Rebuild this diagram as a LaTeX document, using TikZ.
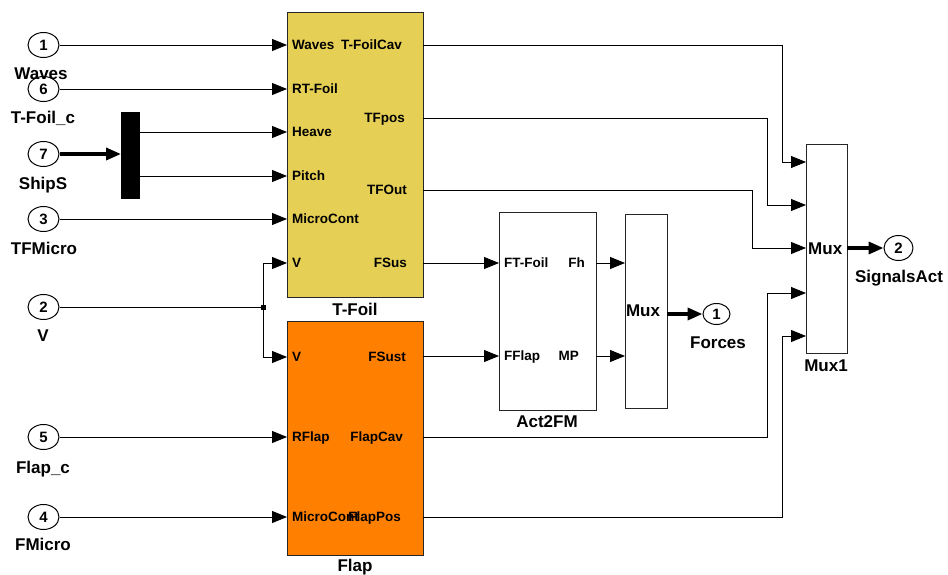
\documentclass[tikz,border=0pt]{standalone}
\usepackage{fontspec}
\setmainfont{Liberation Sans}
\usetikzlibrary{shapes.geometric,arrows.meta}
\definecolor{tfoilcol}{RGB}{230,207,85}
\definecolor{flapcol}{RGB}{255,128,0}
\begin{document}
\begin{tikzpicture}[x=1pt,y=-1pt,
  inport/.style={ellipse,draw,line width=1pt,minimum width=31pt,minimum height=25pt,inner sep=0pt,font=\fontsize{15}{15}\selectfont\bfseries},
  blk/.style={draw=black!85,line width=1.3pt,inner sep=0pt,anchor=north west},
  pl/.style={font=\fontsize{13.5}{14}\selectfont\bfseries,inner sep=0pt,text height=9.7pt,text depth=0pt},
  bl/.style={font=\fontsize{17}{17}\selectfont\bfseries,inner sep=0pt,text height=12.2pt,text depth=0pt},
  sig/.style={line width=0.9pt,-{Triangle[length=15pt,width=12pt]}},
  wire/.style={line width=0.9pt},
  bus/.style={line width=3.5pt,-{Triangle[length=15pt,width=12pt]}},
]
\useasboundingbox (0,0) rectangle (948,575);
\fill[white] (0,0) rectangle (948,575);

% blocks
\node[blk,fill=tfoilcol,minimum width=136pt,minimum height=285pt] (tfoil) at (287,12) {};
\node[blk,fill=flapcol,minimum width=136pt,minimum height=234pt] (flap) at (287,321) {};
\node[blk,fill=white,minimum width=97pt,minimum height=198pt] (act) at (499,212) {};
\node[blk,fill=white,minimum width=42pt,minimum height=194pt] (mux) at (625,214) {};
\node[blk,fill=white,minimum width=41pt,minimum height=209pt] (mux1) at (806,144) {};
\node[fill=black,inner sep=0pt,minimum width=19pt,minimum height=87pt,anchor=north west] (dmx) at (121,112) {};

% block labels
\node[bl] (tfoillbl) at (355,309) {T-Foil};
\node[bl] (flaplbl) at (355,565) {Flap};
\node[bl] (actlbl) at (547,421) {Act2FM};
\node[bl] (mux1lbl) at (826,365) {Mux1};
\node[bl] (muxtxt) at (643,310) {Mux};
\node[bl,anchor=west] (mux1txt) at (808,248) {Mux};

% port labels T-Foil
\node[pl,anchor=west] (p1) at (292,45) {Waves};
\node[pl,anchor=west] (p2) at (292,89) {RT-Foil};
\node[pl,anchor=west] (p3) at (292,132) {Heave};
\node[pl,anchor=west] (p4) at (292,176) {Pitch};
\node[pl,anchor=west] (p5) at (292,219) {MicroCont};
\node[pl,anchor=west] (p6) at (292,263) {V};
\node[pl,anchor=east] (q1) at (402,45) {T-FoilCav};
\node[pl,anchor=east] (q2) at (405,118) {TFpos};
\node[pl,anchor=east] (q3) at (407,190) {TFOut};
\node[pl,anchor=east] (q4) at (407,263) {FSus};
% port labels Flap
\node[pl,anchor=west] (p7) at (292,357) {V};
\node[pl,anchor=west] (p8) at (292,437) {RFlap};
\node[pl,anchor=west] (p9) at (292,517) {MicroCont};
\node[pl,anchor=east] (q5) at (406,357) {FSust};
\node[pl,anchor=east] (q6) at (403,437) {FlapCav};
\node[pl,anchor=east] (q7) at (401,517) {FlapPos};
% port labels Act2FM
\node[pl,anchor=west] (p10) at (504,263) {FT-Foil};
\node[pl,anchor=west] (p11) at (504,356) {FFlap};
\node[pl,anchor=east] (q8) at (585,263) {Fh};
\node[pl,anchor=east] (q9) at (579,356) {MP};

% port coordinates
\coordinate (tfi1) at (287,45);
\coordinate (tfi2) at (287,89);
\coordinate (tfi3) at (287,132);
\coordinate (tfi4) at (287,176);
\coordinate (tfi5) at (287,219);
\coordinate (tfi6) at (287,263);
\coordinate (tfo1) at (423,45);
\coordinate (tfo2) at (423,118);
\coordinate (tfo3) at (423,190);
\coordinate (tfo4) at (423,263);
\coordinate (fli1) at (287,357);
\coordinate (fli2) at (287,437);
\coordinate (fli3) at (287,517);
\coordinate (flo1) at (423,356);
\coordinate (flo2) at (423,437);
\coordinate (flo3) at (423,517);
\coordinate (aci1) at (499,263);
\coordinate (aci2) at (499,356);
\coordinate (aco1) at (596,263);
\coordinate (aco2) at (596,356);
\coordinate (mxi1) at (625,263);
\coordinate (mxi2) at (625,356);
\coordinate (mxo) at (667,314);
\coordinate (m1i1) at (806,162);
\coordinate (m1i2) at (806,205);
\coordinate (m1i3) at (806,248);
\coordinate (m1i4) at (806,293);
\coordinate (m1i5) at (806,336);
\coordinate (m1o) at (847,248);
\coordinate (dmo1) at (140,132);
\coordinate (dmo2) at (140,176);

% inports
\node[inport] (c1) at (43.5,45) {1};
\node[inport] (c6) at (43.5,89) {6};
\node[inport] (c7) at (43.5,154) {7};
\node[inport] (c3) at (43.5,219) {3};
\node[inport] (c2) at (43.5,307) {2};
\node[inport] (c5) at (43.5,437) {5};
\node[inport] (c4) at (43.5,517) {4};
\node[bl] (l1) at (41,73) {Waves};
\node[bl] (l6) at (43,117) {T-Foil\_c};
\node[bl] (l7) at (43,183) {ShipS};
\node[bl] (l3) at (44,248) {TFMicro};
\node[bl] (l2) at (43,335) {V};
\node[bl] (l5) at (43,467) {Flap\_c};
\node[bl] (l4) at (43,544) {FMicro};

% outports
\node[inport,minimum width=27pt,minimum height=21pt] (fout) at (716.5,314) {1};
\node[inport,minimum width=29pt,minimum height=25pt] (sout) at (898.5,248) {2};
\node[bl] (flbl) at (718,342) {Forces};
\node[bl] (slbl) at (899,276) {SignalsAct};

% junction
\node[fill=black,inner sep=0pt,minimum size=5pt] (jv) at (263,307) {};

% connections
\draw[sig] (c1) -- (tfi1);
\draw[sig] (c6) -- (tfi2);
\draw[bus] (c7) -- (c7 -| dmx.west);
\draw[sig] (dmo1) -- (tfi3);
\draw[sig] (dmo2) -- (tfi4);
\draw[sig] (c3) -- (tfi5);
\draw[wire] (c2) -- (jv.center);
\draw[sig] (jv.center) |- (tfi6);
\draw[sig] (jv.center) |- (fli1);
\draw[sig] (c5) -- (fli2);
\draw[sig] (c4) -- (fli3);

\draw[sig] (tfo4) -- (aci1);
\draw[sig] (flo1) -- (aci2);
\draw[sig] (aco1) -- (mxi1);
\draw[sig] (aco2) -- (mxi2);
\draw[bus] (mxo) -- (fout);

\draw[sig] (tfo1) -- ++(359,0) |- (m1i1);
\draw[sig] (tfo2) -- ++(344,0) |- (m1i2);
\draw[sig] (tfo3) -- ++(329,0) |- (m1i3);
\draw[sig] (flo2) -- ++(344,0) |- (m1i4);
\draw[sig] (flo3) -- ++(359,0) |- (m1i5);
\draw[bus] (m1o) -- (sout);
\end{tikzpicture}
\end{document}
